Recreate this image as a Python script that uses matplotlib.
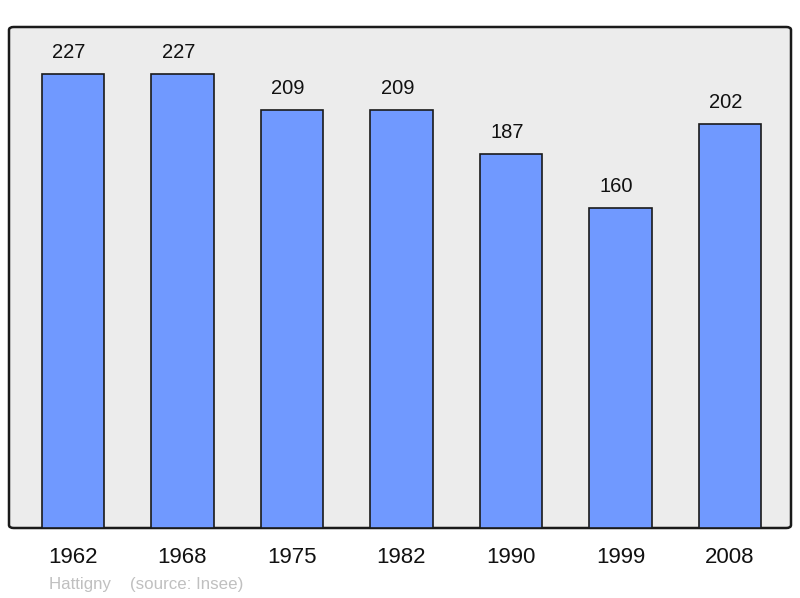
import matplotlib.pyplot as plt
from matplotlib.patches import FancyBboxPatch

years = ["1962", "1968", "1975", "1982", "1990", "1999", "2008"]
population = [227, 227, 209, 209, 187, 160, 202]

plt.rcParams['font.family'] = ['Liberation Sans', 'DejaVu Sans']

fig = plt.figure(figsize=(8, 5.98), dpi=100)
ax = fig.add_axes([9 / 800, 70 / 598, 782 / 800, 501 / 598])
ax.set_facecolor("none")

# background box with slightly rounded corners
bg = FancyBboxPatch((0, 0), 1, 1, boxstyle="round,pad=0,rounding_size=0.006",
                    transform=ax.transAxes, facecolor="#ececec",
                    edgecolor="#1a1a1a", linewidth=1.8, zorder=0, clip_on=False)
ax.add_patch(bg)

x = list(range(len(years)))
bars = ax.bar(x, population, width=0.57, color="#7099ff",
              edgecolor="#1a1a1a", linewidth=1.2, zorder=2)

for xi, v in zip(x, population):
    ax.annotate(str(v), (xi, v), xytext=(-4, 12), textcoords="offset pixels",
                ha="center", va="bottom", fontsize=14.5, color="#111111")

ax.set_xlim(-0.584, 6.557)
ax.set_ylim(0, 250.5)
ax.set_yticks([])
ax.set_xticks(x)
ax.set_xticklabels(years, fontsize=16, color="#111111")
ax.tick_params(axis="x", length=0, pad=14)
for s in ax.spines.values():
    s.set_visible(False)

fig.text(49 / 800, 1 - 584 / 598, "Hattigny    (source: Insee)", fontsize=12.2,
         color="#c0c0c0", ha="left", va="center")

fig.savefig("out.png", dpi=100)
